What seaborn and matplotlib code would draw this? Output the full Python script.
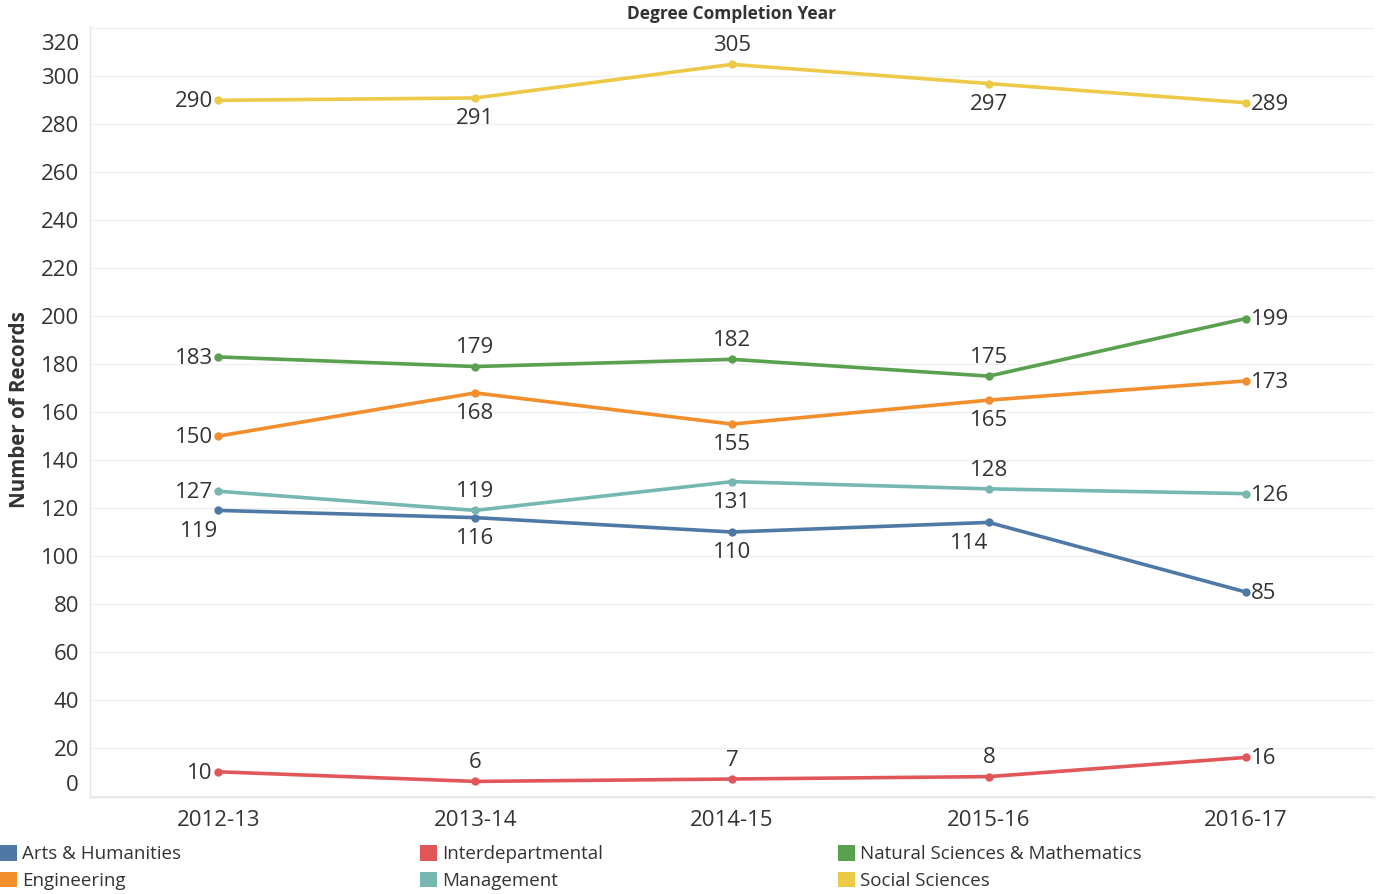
import pandas as pd
import matplotlib.pyplot as plt
import matplotlib.transforms as mtransforms
import seaborn as sns
from matplotlib.patches import Patch

# data
years = ['2012-13', '2013-14', '2014-15', '2015-16', '2016-17']
colleges = ['Arts & Humanities', 'Engineering', 'Interdepartmental', 'Management',
            'Natural Sciences & Mathematics', 'Social Sciences']
arts = [119, 116, 110, 114, 85]
engineering = [150, 168, 155, 165, 173]
interdept = [10, 6, 7, 8, 16]
management = [127, 119, 131, 128, 126]
nat_sci = [183, 179, 182, 175, 199]
social = [290, 291, 305, 297, 289]
y_ticks = list(range(0, 321, 20))

colors = ['#4E79A7', '#F28E2B', '#E15759', '#76B7B2', '#59A14F', '#EDC948']

# where each value label sits relative to its point
label_spots = {
    'Arts & Humanities': ['BL', 'B', 'B', 'BL', 'R'],
    'Engineering': ['L', 'B', 'B', 'B', 'R'],
    'Interdepartmental': ['L', 'T', 'T', 'T', 'R'],
    'Management': ['L', 'T', 'B', 'T', 'R'],
    'Natural Sciences & Mathematics': ['L', 'T', 'T', 'T', 'R'],
    'Social Sciences': ['L', 'B', 'T', 'B', 'R'],
}
spot_style = {
    'L': (-4, -1, 'right'),
    'R': (4, -1, 'left'),
    'T': (0, 13.5, 'center'),
    'B': (0, -15, 'center'),
    'BL': (-0.5, -15, 'right'),
}

TEXT = '#333333'


def make_chart():
    values = [arts, engineering, interdept, management, nat_sci, social]
    df = pd.DataFrame({
        'Year': years * len(colleges),
        'College': [c for c in colleges for _ in years],
        'Records': [v for series in values for v in series],
    })

    sns.set_style("white")
    plt.rcParams['font.family'] = ['Open Sans', 'DejaVu Sans']

    fig = plt.figure(figsize=(13.79, 8.94), dpi=100)
    W, H = 1379, 894
    ax = fig.add_axes([90 / W, 1 - 797 / H, (1374 - 90) / W, (797 - 26) / H])

    sns.lineplot(data=df, x='Year', y='Records', hue='College', hue_order=colleges,
                 palette=colors, marker='o', markersize=6, markeredgewidth=0,
                 linewidth=2.6, sort=False, legend=False, ax=ax)

    for college, series in zip(colleges, values):
        for i, v in enumerate(series):
            dx, dy, ha = spot_style[label_spots[college][i]]
            ax.annotate(str(v), (i, v), xytext=(dx, dy), textcoords='offset points',
                        ha=ha, va='center', fontsize=16, color=TEXT)

    ax.set_xlim(-0.5, 4.5)
    ax.set_ylim(-0.5, 321)
    ax.set_yticks(y_ticks)
    ax.set_xticks(range(len(years)))
    ax.set_xticklabels(years)
    ax.set_xticks([i - 0.5 for i in range(len(years) + 1)], minor=True)
    ax.set_xlabel('')
    ax.set_ylabel('')

    ax.tick_params(axis='both', which='major', length=0, labelsize=16, labelcolor=TEXT)
    ax.tick_params(axis='y', pad=8)
    ax.tick_params(axis='x', pad=9)
    ax.tick_params(axis='x', which='minor', length=5, width=1, color='#e2e2e2')

    # Tableau nudges the end labels inside the axis
    ylabels = ax.get_yticklabels()
    ylabels[0].set_va('bottom')
    ylabels[-1].set_va('top')
    ylabels[-1].set_transform(ylabels[-1].get_transform()
                              + mtransforms.ScaledTranslation(0, -4 / 72, fig.dpi_scale_trans))

    ax.yaxis.grid(True, color='#f0f0f0', linewidth=1)
    ax.set_axisbelow(True)
    for side in ['top', 'right']:
        ax.spines[side].set_visible(False)
    for side in ['left', 'bottom']:
        ax.spines[side].set_color('#e4e4e4')
        ax.spines[side].set_linewidth(1)

    fig.text(732 / W, 1 - 14 / H, 'Degree Completion Year', ha='center', va='center',
             fontsize=12.5, fontweight='bold', color=TEXT)
    fig.text(20 / W, 1 - 410 / H, 'Number of Records', ha='center', va='center',
             rotation=90, fontsize=14.8, fontweight='bold', color=TEXT)

    for col, x in enumerate([0, 420, 838]):
        handles = [Patch(facecolor=colors[2 * col + k], edgecolor='none',
                         label=colleges[2 * col + k]) for k in range(2)]
        fig.legend(handles=handles, loc='upper left', bbox_to_anchor=(x / W, 1 - 845 / H),
                   frameon=False, fontsize=13.5, labelcolor=TEXT, handlelength=0.9,
                   handleheight=0.9, handletextpad=0.3, labelspacing=0.45,
                   borderpad=0, borderaxespad=0)

    fig.savefig('out.png', dpi=100)


if __name__ == "__main__":
    make_chart()
